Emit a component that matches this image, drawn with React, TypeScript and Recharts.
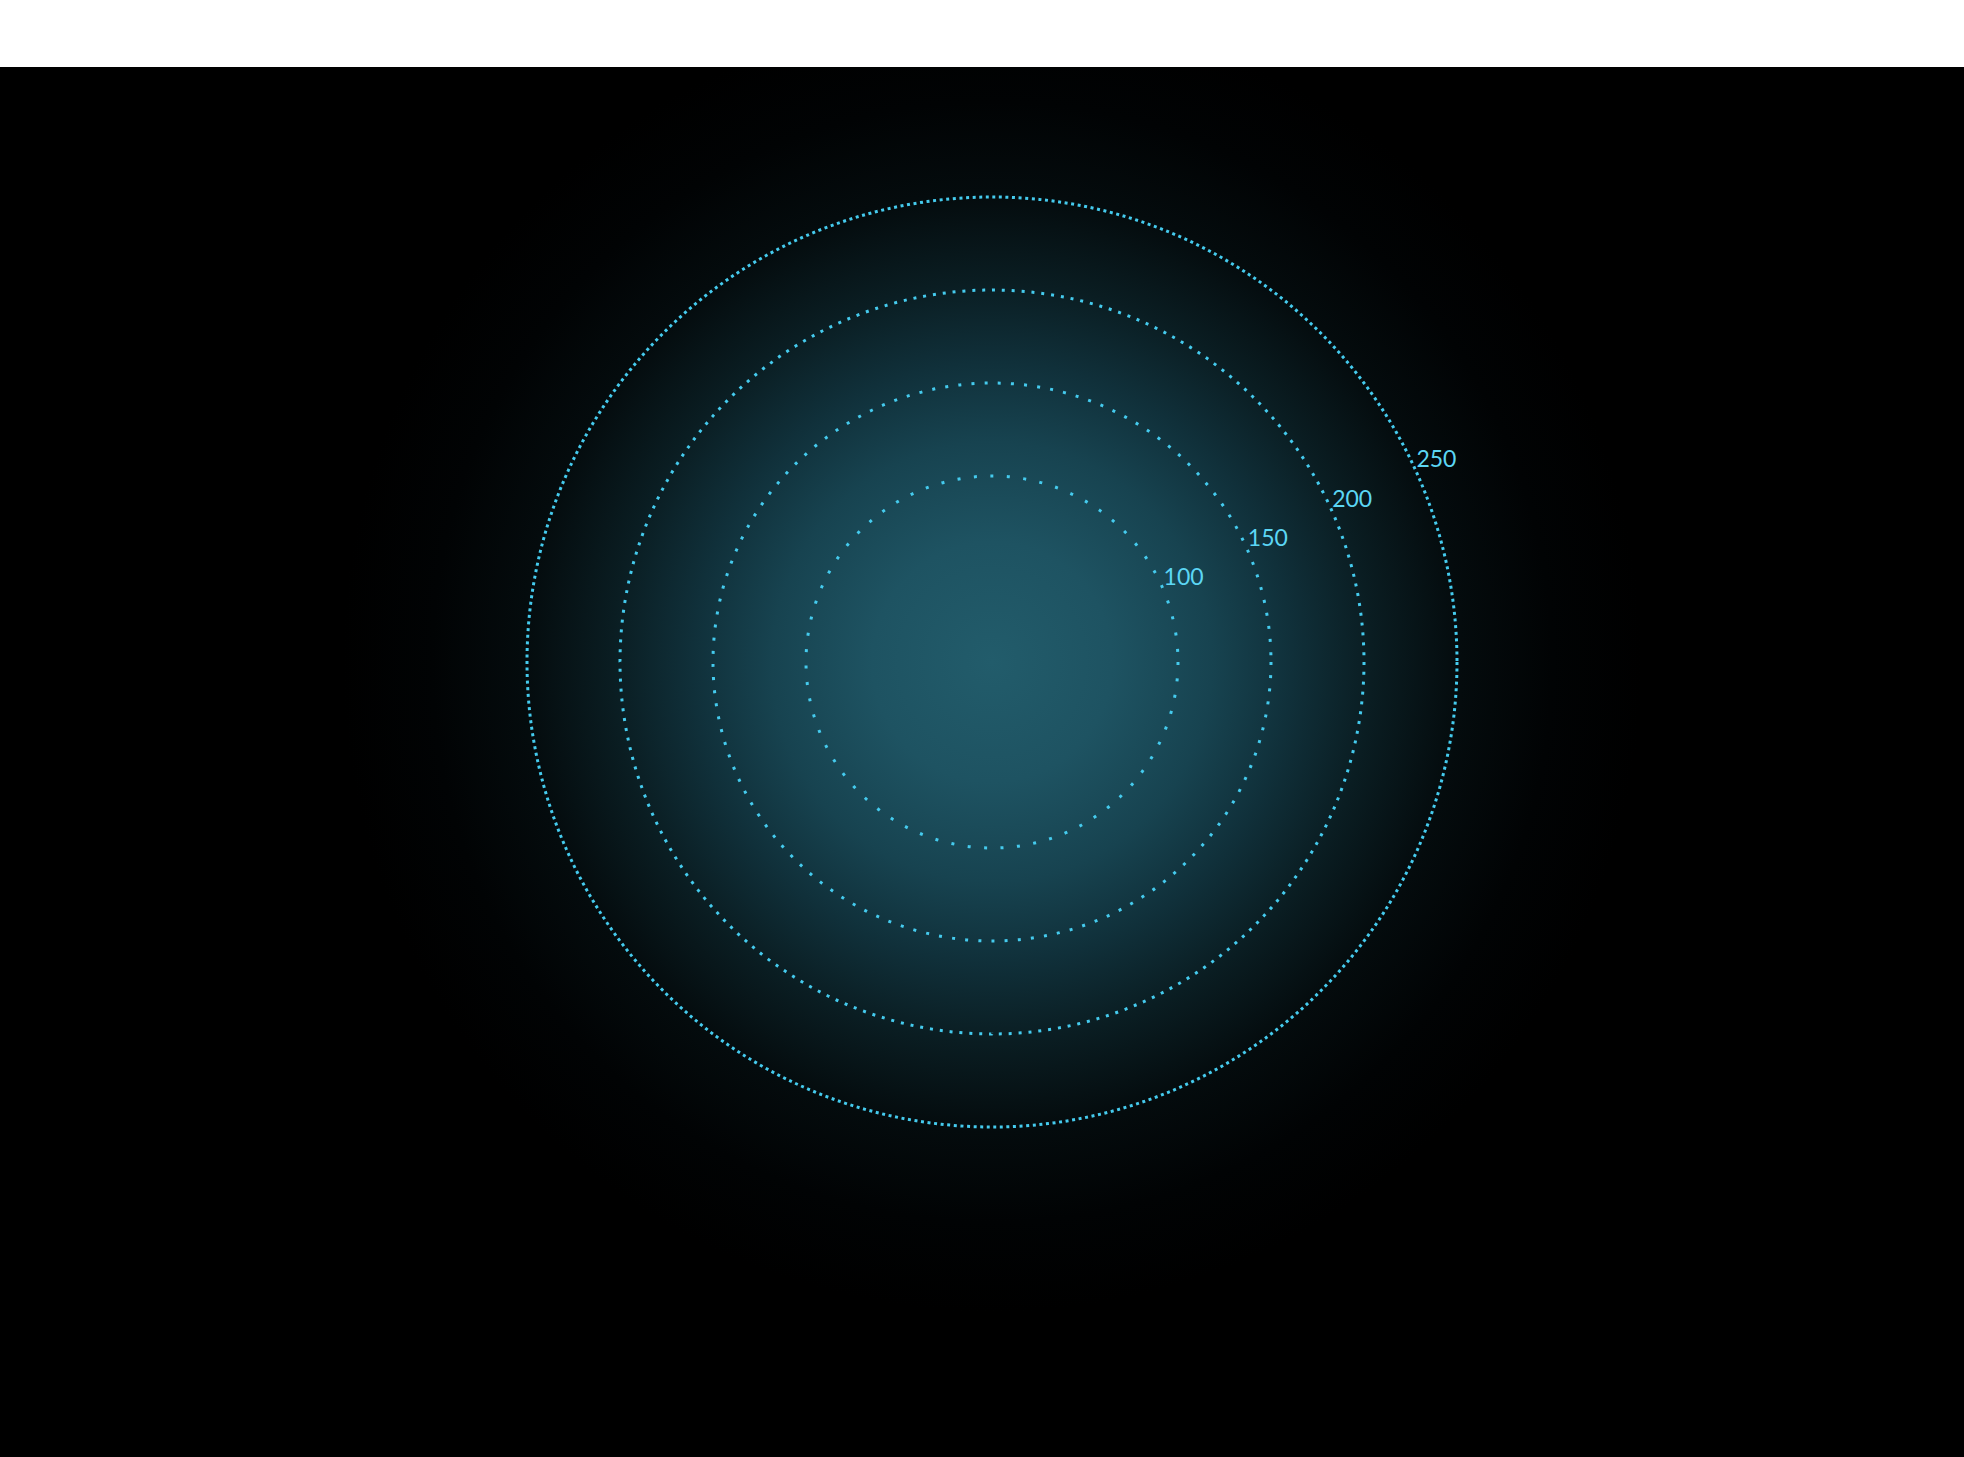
import React from 'react';
import { RadarChart, Radar, PolarRadiusAxis, PolarAngleAxis } from 'recharts';

// radius axis of the polar chart
const radiusDomain = [0, 250];
const radiusTicks = [100, 150, 200, 250];
// the chart shows no series values, only the radius scale
const angleCategories = ['a', 'b', 'c', 'd'];
const seriesValues: (number | null)[] = [null, null, null, null];
const chartData = angleCategories.map((name, i) => ({ name, value: seriesValues[i] }));

const W = 1964;
const H = 1457;
const CX = 992;
const CY = 662;
const RING_COLOR = '#45cbee';

// each ring is drawn with its label, the gap between dots shrinks outward
const renderRingTick = (props: any) => {
  const { x, y, payload, index } = props;
  const gap = 13.5 - 3.3 * index;
  return (
    <g key={`ring-${index}`}>
      <circle
        cx={CX}
        cy={CY}
        r={payload.coordinate}
        fill="none"
        stroke={RING_COLOR}
        strokeWidth={3}
        strokeDasharray={`3 ${gap}`}
      />
      <text
        x={x + 3}
        y={y + 2}
        fill="#5cd6f4"
        fontSize={23}
        fontFamily="Lato, 'Noto Sans', sans-serif"
        textAnchor="start"
      >
        {payload.value}
      </text>
    </g>
  );
};

export default function App() {
  return (
    <div style={{ position: 'absolute', left: 0, top: 0, width: W, height: H, background: '#fff' }}>
      <div
        style={{
          position: 'absolute',
          left: 0,
          top: 67,
          width: W,
          height: H - 67,
          background: `radial-gradient(circle at ${CX}px ${CY - 67}px, #225c6b 0px, #1e5362 120px, #174350 220px, #10303a 300px, #0a1d22 380px, #040b0d 470px, #010304 560px, #000 650px)`,
        }}
      />
      <div style={{ position: 'absolute', left: 0, top: 0 }}>
        <RadarChart
          width={W}
          height={H}
          cx={CX}
          cy={CY}
          outerRadius={465}
          data={chartData}
          margin={{ top: 0, right: 0, bottom: 0, left: 0 }}
        >
          <PolarAngleAxis dataKey="name" tick={false} axisLine={false} tickLine={false} />
          <PolarRadiusAxis
            type="number"
            domain={radiusDomain}
            allowDataOverflow
            ticks={radiusTicks}
            angle={25}
            axisLine={false}
            tickLine={false}
            tick={renderRingTick}
          />
          <Radar dataKey="value" stroke="none" fill="none" dot={false} isAnimationActive={false} />
        </RadarChart>
      </div>
    </div>
  );
}
